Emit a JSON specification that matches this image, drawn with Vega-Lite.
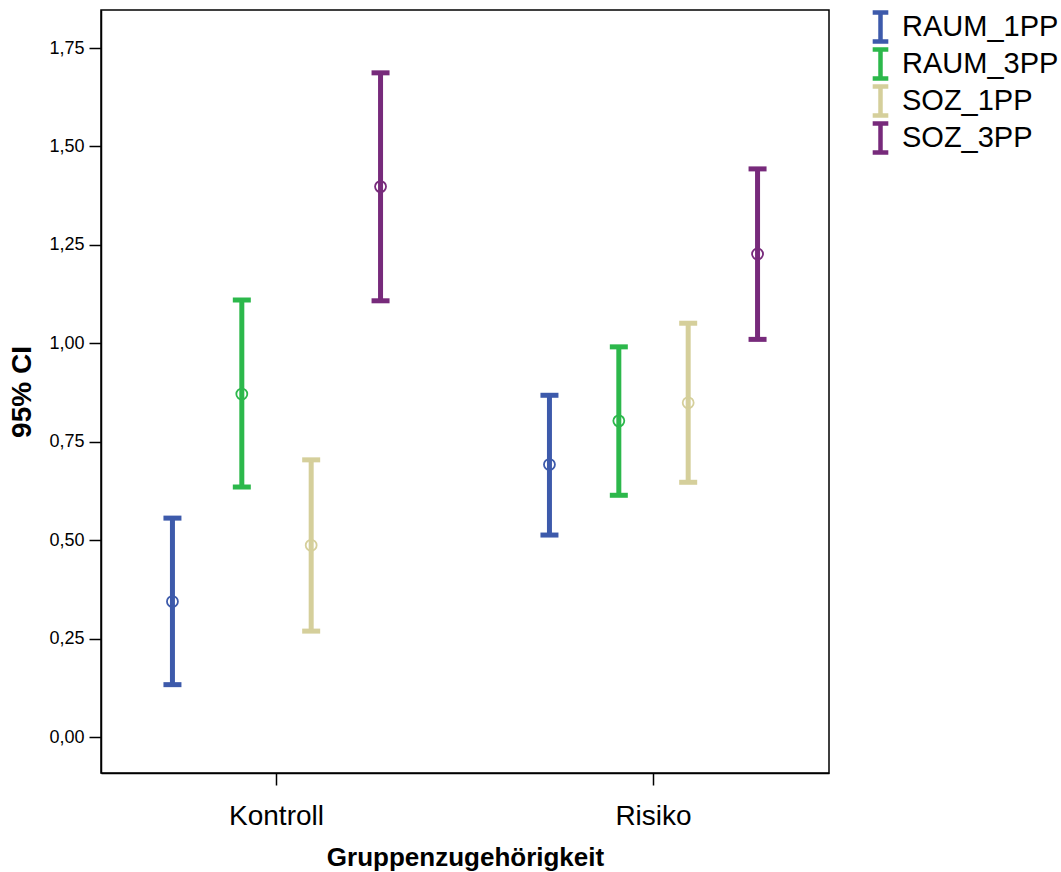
{
  "$schema": "https://vega.github.io/schema/vega-lite/v6.json",
  "autosize": {"type": "none"},
  "padding": {"left": 101, "top": 10, "right": 232, "bottom": 99},
  "width": 728,
  "height": 763,
  "background": "white",
  "config": {
    "font": "Liberation Sans",
    "view": {"stroke": "black", "strokeWidth": 1.5},
    "axis": {"grid": false, "domainColor": "black", "domainWidth": 1.5, "tickColor": "black", "tickWidth": 1.5, "labelColor": "black", "titleColor": "black", "labelFont": "Liberation Sans", "titleFont": "Liberation Sans"},
    "legend": {"labelFont": "Liberation Sans"}
  },
  "data": {
    "values": [
      {"gruppe": "Kontroll", "var": "RAUM_1PP", "mean": 0.344, "lower": 0.133, "upper": 0.556},
      {"gruppe": "Kontroll", "var": "RAUM_3PP", "mean": 0.871, "lower": 0.635, "upper": 1.110},
      {"gruppe": "Kontroll", "var": "SOZ_1PP", "mean": 0.487, "lower": 0.269, "upper": 0.704},
      {"gruppe": "Kontroll", "var": "SOZ_3PP", "mean": 1.398, "lower": 1.108, "upper": 1.687},
      {"gruppe": "Risiko", "var": "RAUM_1PP", "mean": 0.692, "lower": 0.513, "upper": 0.868},
      {"gruppe": "Risiko", "var": "RAUM_3PP", "mean": 0.803, "lower": 0.614, "upper": 0.991},
      {"gruppe": "Risiko", "var": "SOZ_1PP", "mean": 0.849, "lower": 0.647, "upper": 1.051},
      {"gruppe": "Risiko", "var": "SOZ_3PP", "mean": 1.227, "lower": 1.010, "upper": 1.443}
    ]
  },
  "encoding": {
    "x": {
      "field": "gruppe", "type": "nominal",
      "scale": {"paddingInner": 0.069, "paddingOuter": 0},
      "axis": {"title": "Gruppenzugehörigkeit", "labelAngle": 0, "labelFontSize": 28, "labelPadding": 17, "tickSize": 12, "titleFontSize": 26, "titleFontWeight": "bold", "titlePadding": 14}
    },
    "xOffset": {
      "field": "var", "type": "nominal",
      "scale": {"paddingInner": 0, "paddingOuter": 0.53}
    },
    "color": {
      "field": "var", "type": "nominal",
      "scale": {"domain": ["RAUM_1PP", "RAUM_3PP", "SOZ_1PP", "SOZ_3PP"], "range": ["#3D5AAB", "#2CB84B", "#D5CF9B", "#772A7B"]},
      "legend": {
        "title": null,
        "orient": "right",
        "offset": 32,
        "padding": 0,
        "symbolType": "M-0.46,-0.85H0.46M0,-0.85V0.85M-0.46,0.85H0.46",
        "symbolSize": 1156,
        "symbolStrokeWidth": 4.5,
        "labelFontSize": 29,
        "labelColor": "black",
        "labelOffset": 2,
        "clipHeight": 34,
        "rowPadding": 3,
        "encode": {"symbols": {"update": {"fill": {"value": "transparent"}, "stroke": {"scale": "color", "field": "value"}, "strokeWidth": {"value": 4.5}, "opacity": {"value": 1}}}}
      }
    }
  },
  "layer": [
    {
      "mark": {"type": "rule", "strokeWidth": 5, "opacity": 1},
      "encoding": {
        "y": {"field": "lower", "type": "quantitative", "scale": {"domain": [-0.0914, 1.8466], "nice": false, "zero": false},
          "axis": {"title": "95% CI", "values": [0, 0.25, 0.5, 0.75, 1, 1.25, 1.5, 1.75], "labelExpr": "replace(format(datum.value, '.2f'), '.', ',')", "labelFontSize": 18, "labelPadding": 5, "tickSize": 12, "titleFontSize": 28, "titleFontWeight": "bold", "titlePadding": 12}},
        "y2": {"field": "upper"}
      }
    },
    {
      "mark": {"type": "tick", "size": 18, "thickness": 5, "orient": "horizontal", "opacity": 1},
      "encoding": {"y": {"field": "lower", "type": "quantitative"}}
    },
    {
      "mark": {"type": "tick", "size": 18, "thickness": 5, "orient": "horizontal", "opacity": 1},
      "encoding": {"y": {"field": "upper", "type": "quantitative"}}
    },
    {
      "mark": {"type": "point", "shape": "circle", "filled": false, "size": 120, "strokeWidth": 1.8, "opacity": 1},
      "encoding": {"y": {"field": "mean", "type": "quantitative"}}
    }
  ]
}
